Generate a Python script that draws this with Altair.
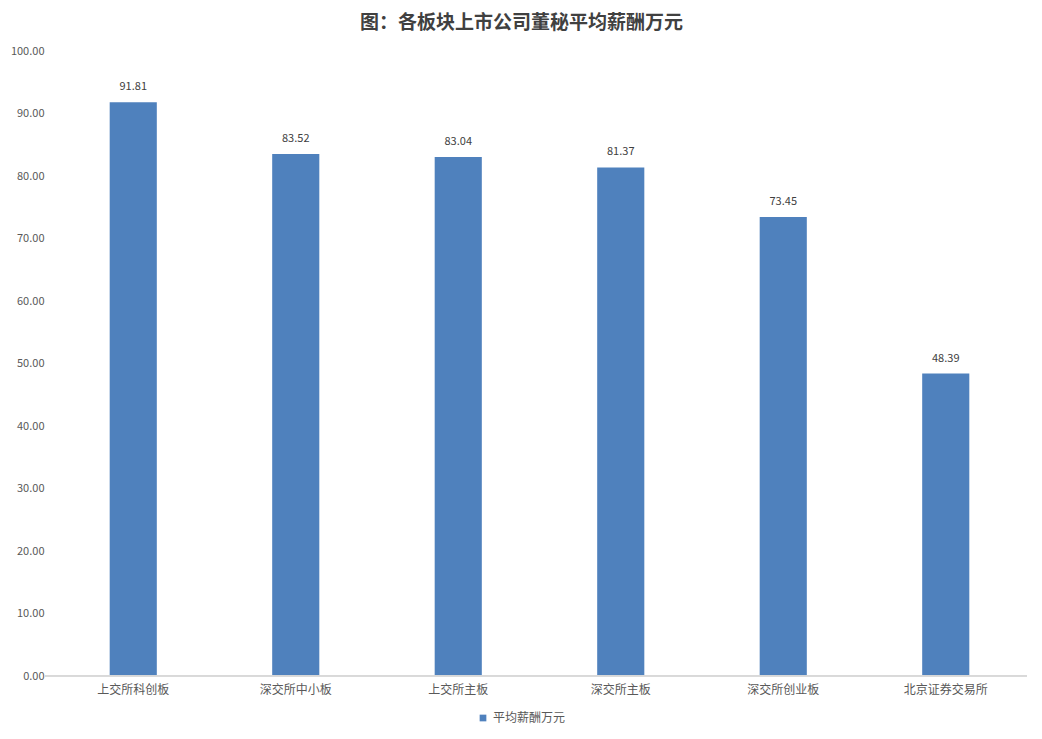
import altair as alt
import pandas as pd

categories = ["上交所科创板", "深交所中小板", "上交所主板", "深交所主板", "深交所创业板", "北京证券交易所"]
values = [91.81, 83.52, 83.04, 81.37, 73.45, 48.39]
series_name = "平均薪酬万元"
y_ticks = [0, 10, 20, 30, 40, 50, 60, 70, 80, 90, 100]

df = pd.DataFrame({"板块": categories, "薪酬": values, "系列": [series_name] * len(categories)})

W, H = 975, 625
FONT = "Noto Sans CJK SC"

x_enc = alt.X("板块:N", sort=categories,
              scale=alt.Scale(paddingInner=0.71, paddingOuter=0.355),
              axis=alt.Axis(title=None, labelAngle=0, labelFontSize=12, labelColor="#595959",
                            labelFont=FONT, domain=False, ticks=False, labelPadding=8))
y_enc = alt.Y("薪酬:Q", scale=alt.Scale(domain=[0, 100], nice=False),
              axis=alt.Axis(title=None, values=y_ticks, format=".2f", grid=False, domain=False,
                            ticks=False, labelFontSize=11, labelColor="#595959", labelPadding=8,
                            labelFont=FONT))

bars = alt.Chart(df).mark_bar(color="#4F81BD").encode(
    x=x_enc, y=y_enc,
    color=alt.Color("系列:N", scale=alt.Scale(range=["#4F81BD"]),
                    legend=alt.Legend(title=None, orient="none", legendX=425, legendY=661,
                                      symbolType="square", symbolSize=45, labelFontSize=12,
                                      labelColor="#595959", labelFont=FONT,
                                      symbolStrokeWidth=0, labelOffset=4))
)

labels = alt.Chart(df).mark_text(dy=-15, fontSize=11, color="#404040", font=FONT).encode(
    x=alt.X("板块:N", sort=categories), y="薪酬:Q", text=alt.Text("薪酬:Q", format=".2f")
)

baseline = alt.Chart(df).mark_rule(color="#D9D9D9", strokeWidth=1).encode(
    x=alt.value(-7), x2=alt.value(W), y=alt.value(H)
)

chart = alt.layer(bars, labels, baseline).properties(
    width=W, height=H,
    autosize=alt.AutoSizeParams(type="none"),
    padding={"left": 44, "top": 43, "right": 7, "bottom": 55},
    title=alt.TitleParams("图：各板块上市公司董秘平均薪酬万元", fontSize=19, fontWeight="bold",
                          font=FONT, color="#404040", anchor="middle", offset=12, dx=-18),
    background="white",
).configure_view(stroke=None)

chart.save("out.html", embed_options={"renderer": "svg", "actions": False})
